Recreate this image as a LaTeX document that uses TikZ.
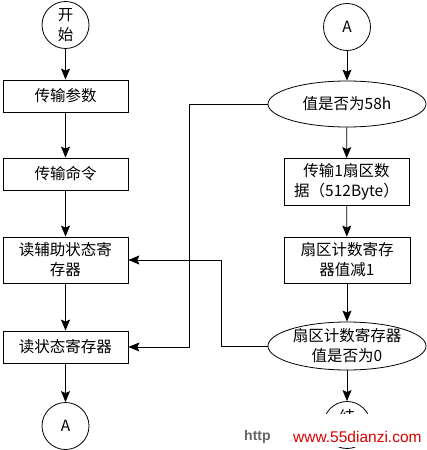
\documentclass[tikz,border=0pt]{standalone}
\usepackage{fontspec}
\setmainfont{Noto Sans CJK SC}
\newfontfamily\wmfont{Liberation Sans}
\usetikzlibrary{arrows.meta,shapes.geometric}
\tikzset{
  base/.style={font=\fontsize{15.5}{20}\selectfont, line width=0.8pt, align=center, inner sep=0pt},
  boxnode/.style={base, draw, rectangle, minimum width=125pt},
  roundnode/.style={base, draw, circle, minimum size=47pt},
  ovalnode/.style={base, draw, ellipse, minimum width=158pt},
  arr/.style={line width=0.8pt, -{Stealth[length=11pt,width=9pt,inset=2pt]}},
}
\begin{document}
\begin{tikzpicture}[x=1pt,y=-1pt]
\useasboundingbox (0,0) rectangle (427,450);
\fill[white] (0,0) rectangle (427,450);
% left column
\node[roundnode] (start) at (65.5,25) {开\\始};
\node[boxnode, minimum height=32pt] (p1) at (65.5,96) {传输参数};
\node[boxnode, minimum height=32pt] (p2) at (65.5,174) {传输命令};
\node[boxnode, minimum height=46pt] (p3) at (65.5,260) {读辅助状态寄\\存器};
\node[boxnode, minimum height=32pt] (p4) at (65.5,347) {读状态寄存器};
\node[roundnode] (a1) at (65.5,426) {A};
% right column
\node[roundnode] (a2) at (347,27) {A};
\node[ovalnode, minimum height=46pt, label={[base]center:值是否为58h}] (e1) at (347,104) {};
\node[boxnode, minimum height=47pt] (r1) at (346.5,182) {传输1扇区数\\据（512Byte）};
\node[boxnode, minimum width=126pt, minimum height=46pt] (r2) at (347,260) {扇区计数寄存\\器值减1};
\node[ovalnode, minimum height=48pt, label={[base]center:扇区计数寄存器\\值是否为0}] (e2) at (347,346) {};
\node[roundnode] (fin) at (347,425) {};
\node[base] (fintext) at (347,417) {结};
% connectors
\draw[arr] (start) -- (p1);
\draw[arr] (p1) -- (p2);
\draw[arr] (p2) -- (p3);
\draw[arr] (p3) -- (p4);
\draw[arr] (p4) -- (a1);
\draw[arr] (a2) -- (e1);
\draw[arr] (e1) -- (r1);
\draw[arr] (r1) -- (r2);
\draw[arr] (r2) -- (e2);
\draw[arr] (e2) -- (fin);
\coordinate (k1) at ([xshift=-78pt]e1.west);
\coordinate (k2) at ([xshift=-46pt]e2.west);
\draw[arr] (e1.west) -- (k1) |- (p4.east);
\draw[arr] (e2.west) -- (k2) |- (p3.east);
% watermark
\node[fill=white, inner sep=0pt, minimum width=182pt, minimum height=33pt] (wm) at (336,430) {};
\node[anchor=west, inner sep=0pt, text=gray!80!black, font=\wmfont\bfseries\fontsize{14}{14}\selectfont] (wm1) at (244,437) {http};
\node[anchor=west, inner sep=0pt, text=red!85!black, font=\wmfont\fontsize{15.5}{15.5}\selectfont] (wm2) at (293,437) {www.55dianzi.com};
\end{tikzpicture}
\end{document}
